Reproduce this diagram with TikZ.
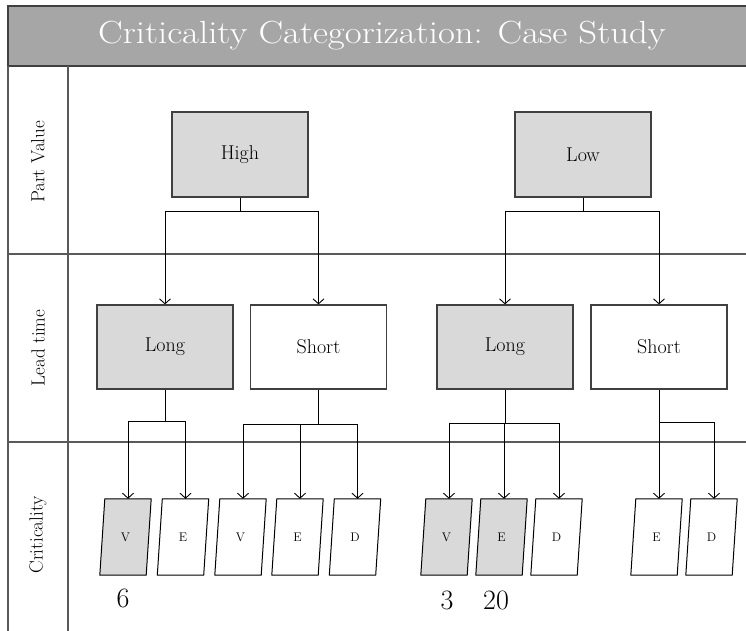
\documentclass[tikz,border=0pt]{standalone}
\usetikzlibrary{arrows.meta,calc,backgrounds}

\definecolor{titlegray}{HTML}{A6A6A6}
\definecolor{boxgray}{HTML}{D9D9D9}
\definecolor{edgegray}{HTML}{404040}
\definecolor{rulegray}{HTML}{595959}

\tikzset{
  valbox/.style={draw=edgegray, line width=1.2pt, minimum width=136pt,
    minimum height=85pt, inner sep=0pt, font=\fontsize{20}{23}\selectfont},
  leadbox/.style={valbox, minimum height=84pt},
  shaded/.style={fill=boxgray},
  plain/.style={fill=white},
  critcell/.style={minimum width=46pt, minimum height=76pt, inner sep=0pt,
    font=\fontsize{12.5}{14}\selectfont},
  rowlabel/.style={rotate=90, font=\fontsize{19}{22}\selectfont},
  countlabel/.style={font=\fontsize{28}{32}\selectfont, inner sep=0pt},
  link/.style={draw=black, line width=0.9pt,
    -{Straight Barb[length=5pt,width=11pt]}},
  tablerule/.style={draw=rulegray, line width=1.4pt},
}

\begin{document}
\begin{tikzpicture}[x=1pt, y=-1pt]
  \useasboundingbox (0,0) rectangle (746,631);

  % heading band
  \filldraw[fill=titlegray, draw=edgegray, line width=1.5pt] (8,6) rectangle (760,66);
  \node[text=white, font=\fontsize{32}{36}\selectfont] (title) at (382,36)
    {\scalebox{1.15}[1]{Criticality Categorization: Case Study}};

  % table rules
  \draw[tablerule] (8,66) -- (8,640);
  \draw[tablerule] (68,66) -- (68,640);
  \draw[tablerule] (8,254) -- (760,254);
  \draw[tablerule] (8,442) -- (760,442);

  % row headings
  \node[rowlabel] (rowvalue) at (38,162) {Part Value};
  \node[rowlabel] (rowlead) at (38,348) {Lead time};
  \node[rowlabel] (rowcrit) at (38,535) {Criticality};

  % part value
  \node[valbox, shaded] (high) at (240,154.5) {High};
  \node[valbox, shaded] (low) at (583,154.5) {Low};

  % lead time
  \node[leadbox, shaded] (long1) at (165,347) {Long};
  \node[leadbox, plain] (short1) at (318.5,347) {Short};
  \node[leadbox, shaded] (long2) at (505,347) {Long};
  \node[leadbox, plain] (short2) at (659,347) {Short};

  % criticality cells
  \node[critcell] (v1) at (125.5,537) {V};
  \node[critcell] (e1) at (183,537) {E};
  \node[critcell] (v2) at (240.5,537) {V};
  \node[critcell] (e2) at (297.5,537) {E};
  \node[critcell] (d2) at (355,537) {D};
  \node[critcell] (v3) at (446.5,537) {V};
  \node[critcell] (e3) at (501.5,537) {E};
  \node[critcell] (d3) at (556.5,537) {D};
  \node[critcell] (e4) at (656.5,537) {E};
  \node[critcell] (d4) at (711.5,537) {D};

  \begin{pgfonlayer}{background}
    \foreach \n/\f in {v1/boxgray, e1/white, v2/white, e2/white, d2/white,
                       v3/boxgray, e3/boxgray, d3/white, e4/white, d4/white}
      \filldraw[fill=\f, draw=black, line width=1pt, line join=miter]
        ($(\n.north west)+(2.5,0)$) -- ($(\n.north east)+(2.5,0)$) --
        ($(\n.south east)+(-2.5,0)$) -- ($(\n.south west)+(-2.5,0)$) -- cycle;
  \end{pgfonlayer}

  % counts
  \node[countlabel] (count6) at (123,598) {6};
  \node[countlabel] (count3) at (447,600) {3};
  \node[countlabel] (count20) at (496,600) {20};

  % part value -> lead time
  \draw[link] (high.south) -- ++(0,14) -| (long1.north);
  \draw[link] (high.south) -- ++(0,14) -| (short1.north);
  \draw[link] (low.south) -- ++(0,14) -| (long2.north);
  \draw[link] (low.south) -- ++(0,14) -| (short2.north);

  % lead time -> criticality
  \foreach \c in {v1,e1}
    \draw[link] (long1.south) -- ++(0,32) -| ([xshift=2.5pt]\c.north);
  \foreach \c in {v2,e2,d2}
    \draw[link] (short1.south) -- ++(0,35) -| ([xshift=2.5pt]\c.north);
  \foreach \c in {v3,e3,d3}
    \draw[link] (long2.south) -- ++(0,34) -| ([xshift=2.5pt]\c.north);
  \foreach \c in {e4,d4}
    \draw[link] (short2.south) -- ++(0,33) -| ([xshift=2.5pt]\c.north);
\end{tikzpicture}
\end{document}
